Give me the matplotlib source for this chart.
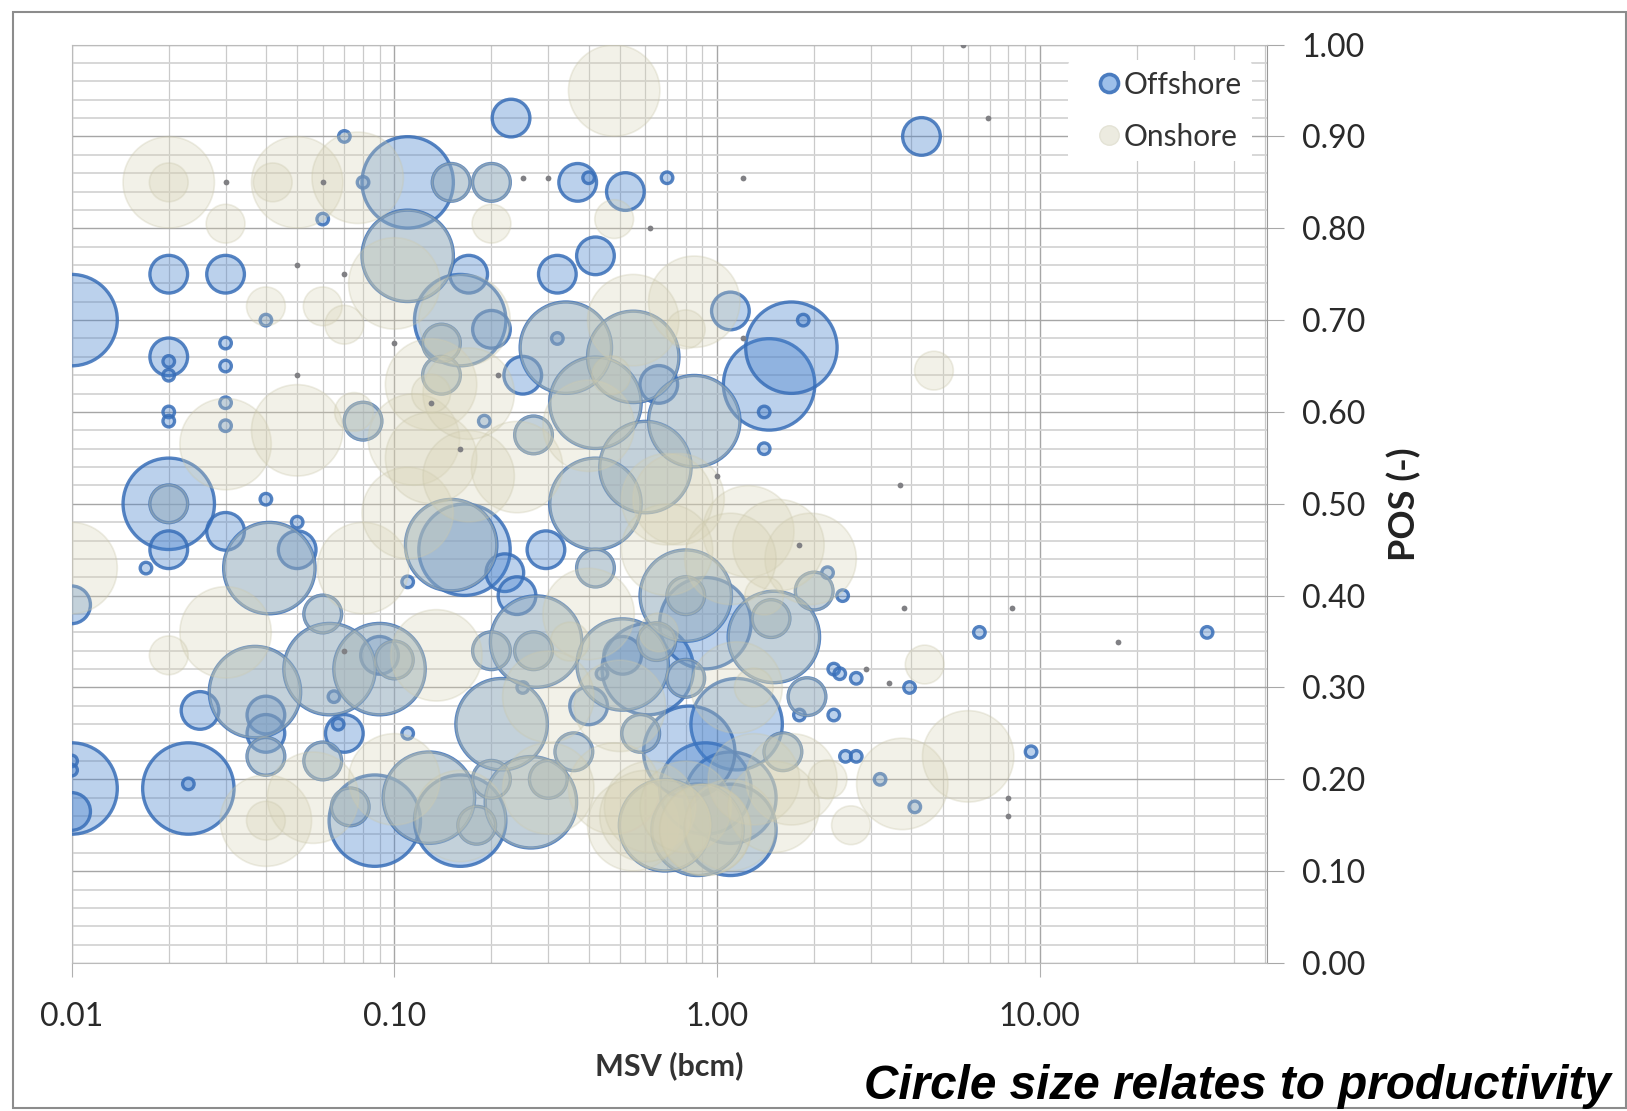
import numpy as np
import matplotlib
matplotlib.use("Agg")
import matplotlib.pyplot as plt
from matplotlib.lines import Line2D
from matplotlib.patches import Rectangle

plt.rcParams['font.family'] = ['Lato', 'DejaVu Sans']

# offshore fields, grouped by productivity class
off_big_msv = [0.01, 0.02, 0.01, 0.023, 0.041, 0.037, 0.063, 0.09, 0.087, 0.11, 0.11, 0.16,
               0.128, 0.16, 0.215, 0.265, 0.275, 0.34, 0.42, 0.55, 0.42, 0.60, 0.85, 1.45,
               1.7, 1.5, 0.8, 0.51, 0.61, 1.15, 0.92, 0.165, 0.15, 0.92, 1.1, 0.69, 0.87,
               1.1, 0.82]
off_big_pos = [0.70, 0.50, 0.19, 0.19, 0.43, 0.295, 0.32, 0.32, 0.155, 0.85, 0.77, 0.70,
               0.18, 0.155, 0.26, 0.175, 0.35, 0.67, 0.61, 0.66, 0.50, 0.54, 0.59, 0.63,
               0.67, 0.355, 0.40, 0.325, 0.32, 0.26, 0.37, 0.45, 0.455, 0.19, 0.18, 0.15,
               0.145, 0.145, 0.23]
off_mid_msv = [0.23, 4.3, 0.37, 0.52, 0.42, 0.32, 1.1, 0.15, 0.2, 0.02, 0.03, 0.17, 0.02,
               0.14, 0.2, 0.14, 0.25, 0.66, 0.08, 0.27, 0.02, 0.02, 0.03, 0.05, 0.06, 0.295,
               0.22, 0.24, 2.0, 1.47, 0.2, 0.27, 0.01, 0.025, 0.04, 0.04, 0.04, 0.06, 0.07,
               0.09, 0.1, 1.9, 0.4, 0.36, 0.58, 1.6, 0.01, 0.073, 0.18, 0.2, 0.3, 0.42,
               0.65, 0.8, 0.51, 0.8]
off_mid_pos = [0.92, 0.90, 0.85, 0.84, 0.77, 0.75, 0.71, 0.85, 0.85, 0.75, 0.75, 0.75, 0.66,
               0.675, 0.69, 0.64, 0.64, 0.63, 0.59, 0.575, 0.50, 0.45, 0.47, 0.45, 0.38, 0.45,
               0.425, 0.40, 0.405, 0.375, 0.34, 0.34, 0.39, 0.275, 0.27, 0.25, 0.225, 0.22, 0.25,
               0.335, 0.33, 0.29, 0.28, 0.23, 0.25, 0.23, 0.165, 0.17, 0.15, 0.20, 0.20, 0.43,
               0.35, 0.40, 0.335, 0.31]
off_small_msv = [0.07, 0.08, 0.06, 0.7, 0.4, 0.03, 0.03, 0.03, 0.03, 0.02, 0.02, 0.02, 0.02,
                 0.04, 0.04, 0.05, 0.017, 0.11, 1.85, 0.19, 1.4, 1.4, 0.32, 33.0, 6.5, 9.4,
                 3.95, 4.1, 3.2, 2.3, 2.4, 2.7, 2.3, 2.5, 2.7, 2.45, 2.2, 1.8, 0.01, 0.01,
                 0.023, 0.11, 0.065, 0.067, 0.25, 0.44]
off_small_pos = [0.90, 0.85, 0.81, 0.855, 0.855, 0.675, 0.65, 0.61, 0.585, 0.655, 0.64, 0.60,
                 0.59, 0.70, 0.505, 0.48, 0.43, 0.415, 0.70, 0.59, 0.60, 0.56, 0.68, 0.36,
                 0.36, 0.23, 0.30, 0.17, 0.20, 0.32, 0.315, 0.31, 0.27, 0.225, 0.225, 0.40,
                 0.425, 0.27, 0.22, 0.21, 0.195, 0.25, 0.29, 0.26, 0.30, 0.315]

# onshore fields
on_big_msv = [0.02, 0.05, 0.077, 0.48, 0.03, 0.05, 0.01, 0.03, 0.08, 0.04, 0.056, 0.1, 0.85,
              0.13, 0.115, 0.11, 0.24, 0.76, 1.25, 1.95, 1.55, 0.135, 0.4, 0.48, 3.75, 6.0,
              1.7, 0.3, 0.69, 0.55, 0.92, 0.62, 0.1, 0.5, 0.7, 0.4, 0.55,
              # sitting on top of offshore fields in the crowded part
              0.11, 0.34, 0.42, 0.55, 0.42, 0.60, 0.85, 0.15, 0.165, 0.275, 0.8, 0.51, 0.215,
              0.265, 0.128, 0.69, 0.87, 0.6, 0.8, 1.1, 0.041, 0.063, 0.09, 0.037, 0.16, 1.5,
              1.1, 0.7, 0.13, 0.17, 1.3, 1.5, 0.92, 0.3, 0.17, 1.15]
on_big_pos = [0.85, 0.85, 0.855, 0.95, 0.565, 0.58, 0.43, 0.36, 0.43, 0.155, 0.18, 0.74, 0.72,
              0.63, 0.57, 0.49, 0.54, 0.505, 0.47, 0.44, 0.455, 0.335, 0.38, 0.19, 0.195, 0.225,
              0.20, 0.19, 0.15, 0.15, 0.145, 0.17, 0.20, 0.28, 0.505, 0.585, 0.70,
              0.77, 0.67, 0.61, 0.66, 0.50, 0.54, 0.59, 0.455, 0.70, 0.35, 0.40, 0.325, 0.26,
              0.175, 0.18, 0.15, 0.145, 0.16, 0.17, 0.15, 0.43, 0.32, 0.32, 0.295, 0.16, 0.355,
              0.44, 0.45, 0.55, 0.53, 0.20, 0.17, 0.145, 0.29, 0.62, 0.30]
on_mid_msv = [0.03, 0.02, 0.04, 0.06, 0.07, 4.7, 4.4, 0.02, 2.6, 0.2, 0.48, 0.042, 0.02, 0.04,
              0.075, 0.13, 1.3, 2.2, 1.4, 0.66, 0.35, 0.47, 0.8,
              0.14, 0.14, 0.08, 0.27, 0.06, 0.2, 0.27, 0.06, 0.04, 0.1, 0.42, 0.36, 1.47, 2.0,
              0.2, 0.15, 0.2, 0.18, 0.3, 0.073, 0.58, 1.6, 1.9, 0.65, 0.8, 0.8]
on_mid_pos = [0.805, 0.85, 0.715, 0.715, 0.695, 0.645, 0.325, 0.335, 0.15, 0.805, 0.81, 0.85,
              0.50, 0.155, 0.60, 0.62, 0.30, 0.20, 0.40, 0.36, 0.35, 0.64, 0.69,
              0.675, 0.64, 0.59, 0.575, 0.38, 0.34, 0.34, 0.22, 0.225, 0.33, 0.43, 0.23, 0.375, 0.405,
              0.85, 0.85, 0.20, 0.15, 0.20, 0.17, 0.25, 0.23, 0.29, 0.35, 0.40, 0.31]

# the very small fields, dark dots
dot_msv = [5.8, 6.9, 1.2, 17.5, 3.8, 8.2, 3.7, 8.0, 8.0, 3.4, 2.9, 1.8, 0.03, 0.05, 0.07, 0.1,
           0.05, 0.06, 0.21, 0.25, 0.3, 0.16, 0.13, 0.07, 0.62, 1.0, 1.2]
dot_pos = [1.0, 0.92, 0.855, 0.35, 0.387, 0.387, 0.52, 0.18, 0.16, 0.305, 0.32, 0.455, 0.85, 0.76,
           0.75, 0.675, 0.64, 0.85, 0.64, 0.855, 0.855, 0.56, 0.61, 0.34, 0.80, 0.53, 0.68]

# productivity class of each group (relative)
prod_big = 100
prod_mid = 17
prod_small = 1.6
prod_on_mid = 18
prod_dot = 0.4

x_major = [0.01, 0.1, 1, 10]
x_labels = ['0.01', '0.10', '1.00', '10.00']
y_major = [0.0, 0.1, 0.2, 0.3, 0.4, 0.5, 0.6, 0.7, 0.8, 0.9, 1.0]
y_labels = ['0.00', '0.10', '0.20', '0.30', '0.40', '0.50', '0.60', '0.70', '0.80', '0.90', '1.00']

W, H = 1627, 1111
fig = plt.figure(figsize=(W / 100, H / 100), dpi=100)
fig.patches.append(Rectangle((13 / W, 3 / H), (W - 14) / W, (H - 15) / H, transform=fig.transFigure,
                             fill=False, ec='#8c8c8c', lw=1.5))
ax = fig.add_axes([71.6 / W, 1 - 963 / H, (1267 - 71.6) / W, (963 - 44.6) / H])

K = 43.3


def bubbles(msv, pos, prod, fc, ec, lw):
    ax.scatter(msv, pos, s=np.full(len(msv), prod * K), facecolors=fc, edgecolors=ec, linewidths=lw, zorder=3)


off_fc = (0.27, 0.50, 0.80, 0.36)
off_ec = (0.22, 0.43, 0.72, 0.85)
on_fc = (0.84, 0.82, 0.70, 0.30)
on_ec = (0.78, 0.77, 0.66, 0.30)

bubbles(off_big_msv, off_big_pos, prod_big, off_fc, off_ec, 2.4)
bubbles(off_mid_msv, off_mid_pos, prod_mid, off_fc, off_ec, 2.4)
bubbles(off_small_msv, off_small_pos, prod_small, off_fc, off_ec, 2.4)
bubbles(on_big_msv, on_big_pos, prod_big, on_fc, on_ec, 1.2)
bubbles(on_mid_msv, on_mid_pos, prod_on_mid, on_fc, on_ec, 1.2)
ax.scatter(dot_msv, dot_pos, s=prod_dot * K, color='#808084', linewidths=0, zorder=4)

ax.set_xscale('log')
ax.set_xlim(0.01, 50.6)
ax.set_ylim(0, 1)
ax.set_xticks(x_major, x_labels)
ax.set_xticks([m * d for d in x_major for m in range(2, 10) if m * d < 50.6], minor=True)
ax.set_yticks(y_major, y_labels)
ax.set_yticks(np.arange(0, 1.001, 0.02), minor=True)
ax.yaxis.tick_right()
ax.yaxis.set_label_position('right')

ax.grid(True, which='major', color='#a6a6a6', lw=1.0, zorder=1)
ax.grid(True, which='minor', axis='x', color='#cacaca', lw=0.9, zorder=1)
ax.grid(True, which='minor', axis='y', color='#d4d4d4', lw=1.3, zorder=1)
ax.set_axisbelow(True)
ax.tick_params(which='minor', length=0)
ax.tick_params(which='major', axis='x', length=10, color='#b0b0b0', labelsize=23, pad=18, labelcolor='#2a2a2a')
ax.tick_params(which='major', axis='y', length=12, color='#a8a8a8', labelsize=23, pad=13, labelcolor='#2a2a2a')
for side in ['top', 'left', 'bottom']:
    ax.spines[side].set_color('#bbbbbb')
ax.spines['right'].set_color('#999999')

ax.set_xlabel('MSV (bcm)', fontsize=22, fontweight='bold', color='#333333', labelpad=14)
ax.set_ylabel('POS (-)', fontsize=26, fontweight='bold', color='#222222', labelpad=16)

handles = [
    Line2D([], [], ls='', marker='o', ms=13, mfc='#9dc0ea', mec='#4a7cc0', mew=2.6, label='Offshore'),
    Line2D([], [], ls='', marker='o', ms=14, mfc='#ecebe0', mec='#e4e3d6', mew=1, label='Onshore'),
]
leg = ax.legend(handles=handles, loc='upper right', bbox_to_anchor=(1.0, 0.999), fontsize=21.5,
                frameon=True, framealpha=1, facecolor='white', edgecolor='none',
                handletextpad=-0.5, labelspacing=0.8, borderpad=0.35, labelcolor='#333333')
leg.set_zorder(5)

fig.text(1552 / 1568, 1 - 1099 / H, 'Circle size relates to productivity', ha='right', va='baseline',
         family='Liberation Sans', fontsize=34.3, fontweight='bold', style='italic', color='black')

fig.savefig('out.png', dpi=100)
